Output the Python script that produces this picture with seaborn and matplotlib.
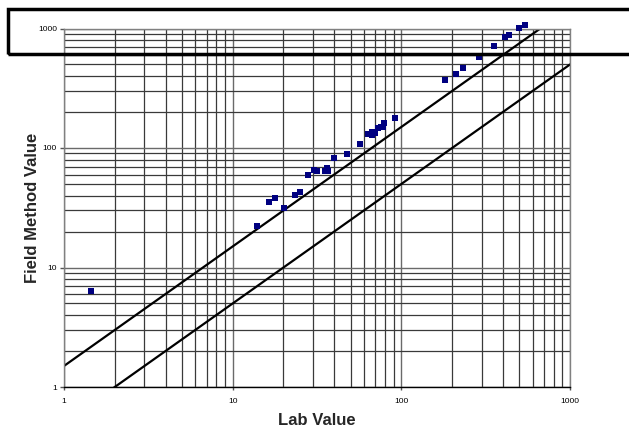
import matplotlib
matplotlib.use("Agg")
import matplotlib.pyplot as plt
import matplotlib.patches as mpatches
from matplotlib.ticker import LogLocator, FixedLocator, NullFormatter
import seaborn as sns
import pandas as pd

# Data
lab_value = [1.45, 13.9, 16.4, 17.8, 20.1, 23.4, 25.1, 28.0, 30.3, 31.6, 35.1, 36.4,
             36.7, 40.0, 47.5, 56.9, 63.7, 66.7, 67.3, 69.8, 72.4, 75.7, 77.5, 78.9,
             91.3, 181.5, 210.1, 233.0, 288.7, 354.3, 411.8, 436.6, 498.4, 540.0]
field_value = [6.4, 22.4, 35.5, 38.4, 31.7, 40.4, 43.1, 59.8, 65.8, 64.6, 64.6, 67.6,
               64.6, 83.0, 89.6, 108.6, 131.7, 136.1, 127.7, 134.3, 147.0, 150.7, 148.9, 162.8,
               177.2, 372.9, 418.6, 469.9, 580.7, 717.8, 844.1, 887.6, 1015.0, 1060.0]
line_x = [1, 1000]
upper_ratio = 1.5
lower_ratio = 0.5
tick_values = [1, 10, 100, 1000]
tick_labels = ["1", "10", "100", "1000"]

sns.set_theme(style="white")
plt.rcParams['font.family'] = ['Liberation Sans', 'DejaVu Sans']

fig = plt.figure(figsize=(6.29, 4.28), dpi=100)
ax = fig.add_axes([64/629, 1-387/428, (570-64)/629, (387-28.5)/428])

ax.set_xscale("log")
ax.set_yscale("log")
ax.set_xlim(1, 1000)
ax.set_ylim(1, 1000)

# grid
ax.xaxis.set_major_locator(FixedLocator(tick_values))
ax.yaxis.set_major_locator(FixedLocator(tick_values))
ax.xaxis.set_minor_locator(LogLocator(base=10, subs=range(2, 10)))
ax.yaxis.set_minor_locator(LogLocator(base=10, subs=range(2, 10)))
ax.xaxis.set_minor_formatter(NullFormatter())
ax.yaxis.set_minor_formatter(NullFormatter())
ax.grid(True, which="major", color="#6a6a6a", linewidth=1.0)
ax.grid(True, which="minor", color="#3a3a3a", linewidth=0.9)
ax.set_axisbelow(True)

df_lines = pd.DataFrame({
    "x": line_x + line_x,
    "y": [v * upper_ratio for v in line_x] + [v * lower_ratio for v in line_x],
    "g": ["upper"] * 2 + ["lower"] * 2,
})
sns.lineplot(data=df_lines, x="x", y="y", units="g", estimator=None,
             color="black", linewidth=1.6, ax=ax, legend=False)

df_pts = pd.DataFrame({"lab": lab_value, "field": field_value})
sns.scatterplot(data=df_pts, x="lab", y="field", marker="s", s=24, color="#000080",
                edgecolor="#000080", linewidth=0, ax=ax, clip_on=False, zorder=5)

ax.set_xticks(tick_values)
ax.set_xticklabels(tick_labels)
ax.set_yticks(tick_values)
ax.set_yticklabels(tick_labels)
ax.tick_params(axis="both", which="major", labelsize=6, colors="#000000")
ax.tick_params(axis="y", which="major", left=True, length=3, width=1, color="#555555", pad=2)
ax.tick_params(axis="x", which="major", bottom=True, length=2.2, width=1, color="#555555", pad=5.5)
ax.tick_params(which="minor", length=0)

for s in ax.spines.values():
    s.set_color("#808080")
    s.set_linewidth(1.0)
ax.spines["bottom"].set_color("#000000")

ax.set_xlabel("Lab Value", fontsize=12, fontweight="bold")
ax.set_ylabel("Field Method Value", fontsize=12, fontweight="bold")
ax.xaxis.set_label_coords(0.5, -(413 - 387) / 358.5)
ax.yaxis.set_label_coords(-(64 - 40) / 506, 0.5)

rect = mpatches.Rectangle((8/629, 1-54/428), 1.0, (54-9)/428, fill=False,
                          edgecolor="black", linewidth=2.5, transform=fig.transFigure,
                          figure=fig, zorder=10)
fig.patches.append(rect)

fig.savefig("out.png", dpi=100)
